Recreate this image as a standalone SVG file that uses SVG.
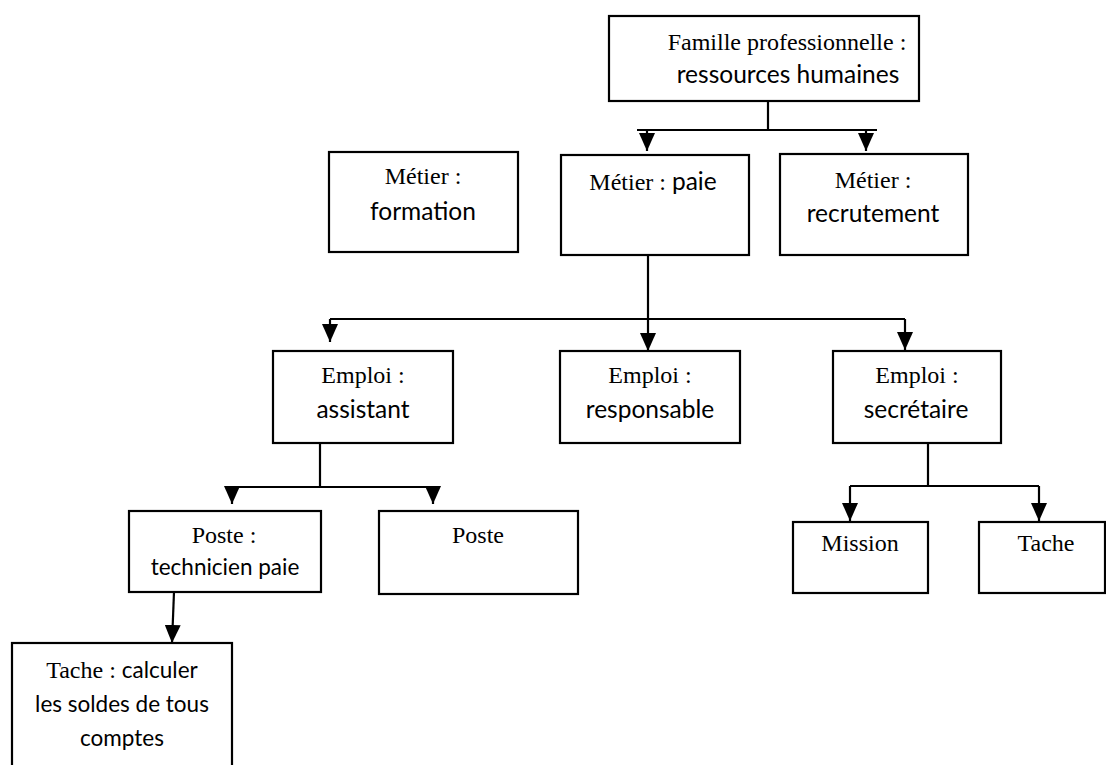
<svg xmlns="http://www.w3.org/2000/svg" width="1106" height="765" viewBox="0 0 1106 765">
  <defs>
    <style>
      .box { fill: #ffffff; stroke: #000000; stroke-width: 2.2; }
      .wire { fill: none; stroke: #000000; stroke-width: 2.2; }
      .arrow { fill: none; stroke: #000000; stroke-width: 2.2; marker-end: url(#head); }
      text { text-anchor: middle; fill: #000000; }
      .serif { font-family: "Liberation Serif", "Times New Roman", serif; font-size: 24px; }
      .sans { font-family: Lato, "Liberation Sans", sans-serif; font-size: 24.5px; }
      .sans-s { font-family: Lato, "Liberation Sans", sans-serif; font-size: 22.5px; }
    </style>
    <marker id="head" markerUnits="userSpaceOnUse" markerWidth="18" markerHeight="16" refX="18" refY="8" orient="auto">
      <path d="M0,0 L18,8 L0,16 z" fill="#000000"/>
    </marker>
  </defs>

  <rect width="1106" height="765" fill="#ffffff"/>

  <!-- connectors -->
  <g id="connectors">
    <!-- famille -> metiers -->
    <path class="wire" d="M768,101 V130 M637,130 H877"/>
    <path class="arrow" d="M647,130 V151"/>
    <path class="arrow" d="M866,130 V151"/>
    <!-- paie -> emplois -->
    <path class="arrow" d="M648,255 V351"/>
    <path class="wire" d="M330,319 H905"/>
    <path class="arrow" d="M330,319 V342"/>
    <path class="arrow" d="M905,319 V350"/>
    <!-- assistant -> postes -->
    <path class="wire" d="M320,443 V487 M231,487 H440"/>
    <path class="arrow" d="M232,487 V504"/>
    <path class="arrow" d="M433,487 V504"/>
    <!-- technicien paie -> tache -->
    <path class="arrow" d="M174,592 L172,643"/>
    <!-- secretaire -> mission / tache -->
    <path class="wire" d="M928,443 V486 M850,486 H1039"/>
    <path class="arrow" d="M850,486 V521"/>
    <path class="arrow" d="M1039,486 V521"/>
  </g>

  <g id="famille">
    <rect class="box" x="609" y="16" width="310" height="85"/>
    <text class="serif" x="787" y="50">Famille professionnelle :</text>
    <text class="sans" x="788" y="83">ressources humaines</text>
  </g>

  <g id="metier-formation">
    <rect class="box" x="329" y="152" width="189" height="100"/>
    <text class="serif" x="423" y="184">Métier :</text>
    <text class="sans" x="423" y="220">formation</text>
  </g>

  <g id="metier-paie">
    <rect class="box" x="561" y="155" width="188" height="100"/>
    <text x="653" y="190"><tspan class="serif">Métier : </tspan><tspan class="sans">paie</tspan></text>
  </g>

  <g id="metier-recrutement">
    <rect class="box" x="780" y="154" width="188" height="101"/>
    <text class="serif" x="873" y="188">Métier :</text>
    <text class="sans" x="873" y="222">recrutement</text>
  </g>

  <g id="emploi-assistant">
    <rect class="box" x="273" y="351" width="180" height="92"/>
    <text class="serif" x="363" y="383">Emploi :</text>
    <text class="sans" x="363" y="418">assistant</text>
  </g>

  <g id="emploi-responsable">
    <rect class="box" x="560" y="351" width="180" height="92"/>
    <text class="serif" x="650" y="383">Emploi :</text>
    <text class="sans" x="650" y="418">responsable</text>
  </g>

  <g id="emploi-secretaire">
    <rect class="box" x="833" y="351" width="168" height="92"/>
    <text class="serif" x="917" y="383">Emploi :</text>
    <text class="sans" x="916" y="418">secrétaire</text>
  </g>

  <g id="poste-technicien">
    <rect class="box" x="129" y="511" width="192" height="81"/>
    <text class="serif" x="224" y="543">Poste :</text>
    <text class="sans-s" x="225" y="575">technicien paie</text>
  </g>

  <g id="poste">
    <rect class="box" x="379" y="511" width="199" height="83"/>
    <text class="serif" x="478" y="543">Poste</text>
  </g>

  <g id="mission">
    <rect class="box" x="793" y="522" width="135" height="71"/>
    <text class="serif" x="860" y="551">Mission</text>
  </g>

  <g id="tache">
    <rect class="box" x="979" y="522" width="126" height="71"/>
    <text class="serif" x="1046" y="551">Tache</text>
  </g>

  <g id="tache-calcul">
    <rect class="box" x="12" y="643" width="220" height="140"/>
    <text x="122" y="678"><tspan class="serif">Tache : </tspan><tspan class="sans-s">calculer</tspan></text>
    <text class="sans-s" x="122" y="712">les soldes de tous</text>
    <text class="sans-s" x="122" y="746">comptes</text>
  </g>
</svg>
